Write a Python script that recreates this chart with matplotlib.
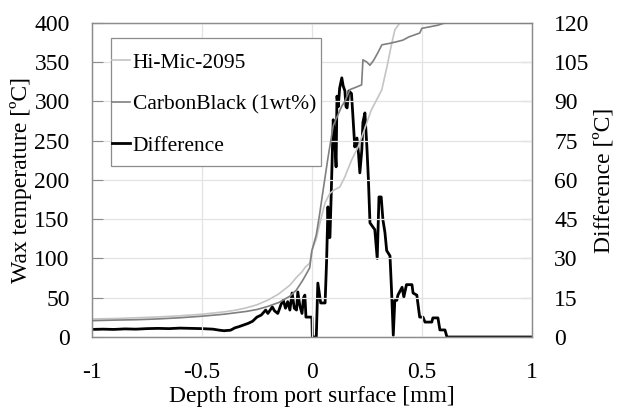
import matplotlib
matplotlib.use("Agg")
import matplotlib.pyplot as plt
from matplotlib.patches import Rectangle

plt.rcParams['font.family'] = ['Liberation Serif', 'DejaVu Serif']

# Hi-Mic-2095 wax temperature
hm_x = [-1, -0.9, -0.8, -0.7, -0.6, -0.5, -0.45, -0.4, -0.35, -0.3, -0.25, -0.2, -0.15,
        -0.1, -0.07, -0.045, -0.03, -0.01, 0.0, 0.02, 0.036, 0.06, 0.082, 0.1, 0.127,
        0.15, 0.18, 0.21, 0.24, 0.27, 0.3, 0.318, 0.33, 0.345, 0.36, 0.377, 0.4, 1.0]
hm_t = [23, 23.5, 24.5, 25.5, 27, 29, 30.5, 32, 34, 37, 41, 47, 55,
        66, 76, 83, 89, 94, 110, 125, 145, 171, 183, 187, 191,
        204, 225, 242, 265, 289, 305, 315, 330, 349, 370, 391, 400, 400]

# CarbonBlack (1wt%) wax temperature
cb_x = [-1, -0.9, -0.8, -0.7, -0.6, -0.5, -0.4, -0.3, -0.25, -0.2, -0.15, -0.1, -0.07,
        -0.04, -0.01, 0.0, 0.02, 0.036, 0.05, 0.073, 0.097, 0.114, 0.136, 0.15, 0.173,
        0.2, 0.226, 0.232, 0.25, 0.264, 0.28, 0.3, 0.318, 0.355, 0.386, 0.414, 0.44,
        0.49, 0.5, 0.573, 0.605, 1.0]
cb_t = [20.8, 21.5, 22, 23, 24.5, 26.5, 29, 32.5, 35, 39, 44, 52, 60,
        73, 88, 110, 130, 158, 185, 228, 269, 280, 294, 300, 315,
        318, 321, 353, 350, 346, 352, 362, 372, 374, 376, 378, 382,
        387, 393, 397, 400, 400]

# Difference
df_x = [-1, -0.95, -0.9, -0.85, -0.8, -0.75, -0.7, -0.65, -0.6, -0.55, -0.5, -0.45,
        -0.42, -0.4, -0.37, -0.35, -0.33, -0.31, -0.29, -0.27, -0.25, -0.23, -0.21,
        -0.2, -0.18, -0.17, -0.155, -0.14, -0.13, -0.12, -0.11, -0.1, -0.09, -0.08,
        -0.07, -0.064, -0.055, -0.045, -0.038, -0.032, -0.027, -0.01, 0.0, 0.002,
        0.02, 0.027, 0.04, 0.06, 0.067, 0.073, 0.078, 0.082, 0.088, 0.097, 0.104,
        0.11, 0.114, 0.12, 0.126, 0.136, 0.142, 0.15, 0.155, 0.16, 0.168, 0.18,
        0.186, 0.195, 0.205, 0.212, 0.218, 0.227, 0.232, 0.241, 0.25, 0.257, 0.264,
        0.286, 0.297, 0.305, 0.315, 0.323, 0.332, 0.34, 0.355, 0.362, 0.37, 0.377,
        0.386, 0.391, 0.41, 0.418, 0.43, 0.455, 0.46, 0.477, 0.49, 0.505, 0.514,
        0.545, 0.55, 0.573, 0.582, 0.605, 0.614, 1.0]
df_v = [2.9, 3.0, 2.9, 3.1, 3.0, 3.2, 3.3, 3.2, 3.4, 3.3, 3.2, 3.0,
        2.6, 2.4, 2.6, 3.5, 4.0, 4.6, 5.2, 6.0, 7.6, 8.4, 10.3,
        9.0, 11.5, 10.0, 9.0, 12.5, 14, 11, 13.5, 10.3, 16.8, 11,
        10.3, 17.2, 12, 9, 15, 16, 7.6, 7.6, 7.6, 0,
        0, 20.6, 13, 13, 29.4, 49.7, 38, 38, 55, 83, 75,
        65, 92, 88, 95, 99, 96, 94, 88, 87.5, 94, 93,
        85, 72.6, 76, 70, 62.7, 71.5, 82, 85.6, 72.6, 60, 43.6,
        41, 30, 53.5, 53.5, 44.7, 40, 33, 31, 18, 0.7, 14,
        14, 16, 19, 15.3, 20, 20, 16.8, 16, 7.6, 7.6, 5.7,
        5.7, 7.3, 7.3, 2.7, 2.7, 0, 0]

x_ticks = [-1, -0.5, 0, 0.5, 1]
x_labels = ['-1', '-0.5', '0', '0.5', '1']
left_ticks = list(range(0, 401, 50))
right_ticks = list(range(0, 121, 15))

fig = plt.figure(figsize=(6.17, 4.08), dpi=100)
ax = fig.add_axes([0.149, 0.174, 0.713, 0.770])
ax2 = ax.twinx()

l1, = ax.plot(hm_x, hm_t, color='#c4c4c4', lw=1.2, label='Hi-Mic-2095', zorder=2)
l2, = ax.plot(cb_x, cb_t, color='#7f7f7f', lw=1.2, label='CarbonBlack (1wt%)', zorder=3)
l3, = ax2.plot(df_x, df_v, color='black', lw=2.0, label='Difference', zorder=4)

ax.set_xlim(-1, 1)
ax.set_ylim(0, 400)
ax2.set_ylim(0, 120)
ax.set_xticks(x_ticks)
ax.set_xticklabels(x_labels)
ax.set_yticks(left_ticks)
ax2.set_yticks(right_ticks)

ax.grid(True, color='#e3e3e3', lw=0.9)
ax.set_axisbelow(True)

for a in (ax, ax2):
    for s in a.spines.values():
        s.set_color('#8c8c8c')
        s.set_linewidth(0.9)
    a.tick_params(labelsize=17, colors='black')
ax.tick_params(axis='y', direction='in', length=8, color='#8c8c8c', pad=16)
ax.tick_params(axis='x', length=0, pad=18)
ax2.tick_params(axis='y', direction='in', length=8, color='#8c8c8c', pad=16)

ax.set_xlabel('Depth from port surface [mm]', fontsize=17, labelpad=2)
ax.set_ylabel('Wax temperature [ºC]', fontsize=17, labelpad=2)
ax2.set_ylabel('Difference [ºC]', fontsize=17, labelpad=3)

ax.add_patch(Rectangle((0.0432, 0.545), 0.4768, 0.407, transform=ax.transAxes,
                       facecolor='white', edgecolor='#8c8c8c', lw=0.9, zorder=9))
leg = ax.legend(handles=[l1, l2, l3], loc='upper left', bbox_to_anchor=(0.046, 0.905),
                borderaxespad=0, borderpad=0, fontsize=15.5, handlelength=0.85,
                handletextpad=0.1, labelspacing=1.0, frameon=False)
leg.set_zorder(10)
ax.set_zorder(ax2.get_zorder() + 1)
ax.patch.set_visible(False)

fig.savefig('out.png', dpi=100)
